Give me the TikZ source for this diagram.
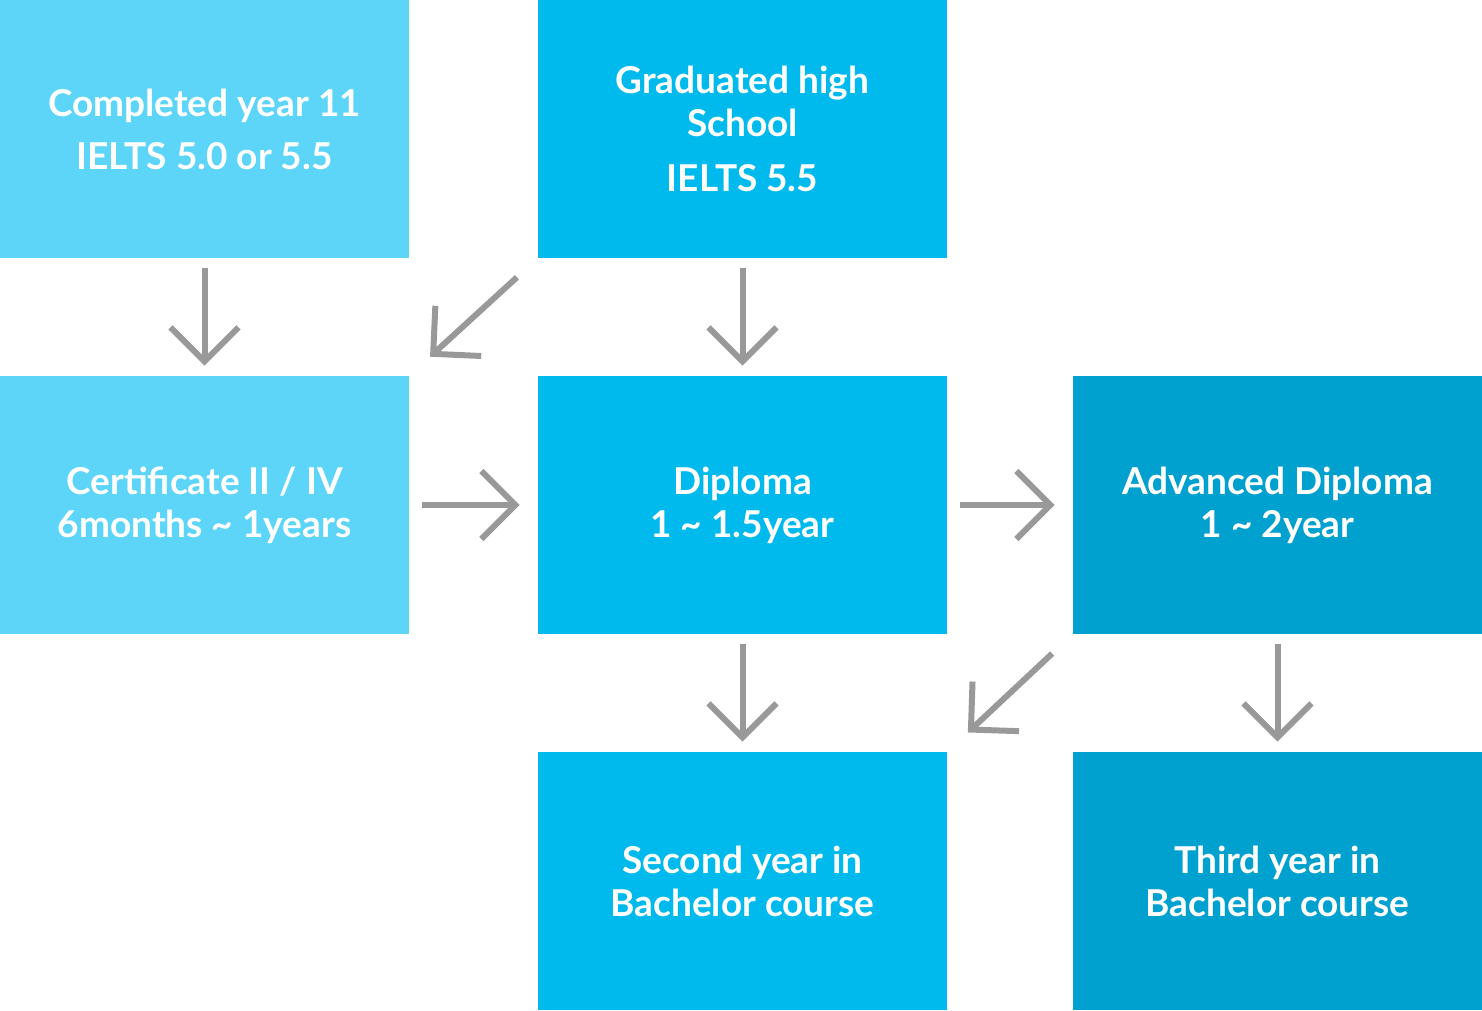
\documentclass[tikz,border=0pt]{standalone}
\usepackage{fontspec}
\setmainfont{Lato}[BoldFont={Lato Bold}]
\usetikzlibrary{arrows.meta}
\definecolor{boxlight}{HTML}{5DD5F9}
\definecolor{boxmid}{HTML}{00BAEE}
\definecolor{boxdark}{HTML}{00A0CF}
\definecolor{arrowgray}{HTML}{999999}
\begin{document}
\begin{tikzpicture}[x=0.5pt,y=-0.5pt]
\tikzstyle{block} = [rectangle, draw=none, text=white, font=\bfseries\fontsize{18.5}{21.5}\selectfont,
minimum width=204.5pt, minimum height=129pt, align=center, inner sep=0pt]
\tikzstyle{line} = [draw=arrowgray, line width=3pt, -{Straight Barb[length=17pt,width=34pt,line width=3pt]}]
\useasboundingbox (0,0) rectangle (1482,1011);
% row 1
\node [block, fill=boxlight] (year11) at (204.5,129) {Completed year 11\\[5pt]IELTS 5.0 or 5.5};
\node [block, fill=boxmid] (grad) at (742.5,129) {Graduated high\\School\\[6pt]IELTS 5.5};
% row 2
\node [block, fill=boxlight] (cert) at (204.5,505) {Certificate II / IV\\6months \textasciitilde{} 1years};
\node [block, fill=boxmid] (dip) at (742.5,505) {Diploma\\1 \textasciitilde{} 1.5year};
\node [block, fill=boxdark] (adv) at (1277.5,505) {Advanced Diploma\\1 \textasciitilde{} 2year};
% row 3
\node [block, fill=boxmid] (second) at (742.5,881) {Second year in\\Bachelor course};
\node [block, fill=boxdark] (third) at (1277.5,881) {Third year in\\Bachelor course};

\path [line, shorten <=5pt, shorten >=5pt] (year11) -- (cert);
\path [line, shorten <=5pt, shorten >=5pt] (grad) -- (dip);
\path [line, shorten <=14pt, shorten >=14pt] (grad.south west) -- (cert.north east);
\path [line, shorten <=6.5pt, shorten >=9pt] (cert) -- (dip);
\path [line, shorten <=6.5pt, shorten >=9pt] (dip) -- (adv);
\path [line, shorten <=5pt, shorten >=5pt] (dip) -- (second);
\path [line, shorten <=5pt, shorten >=5pt] (adv) -- (third);
\path [line, shorten <=14pt, shorten >=14pt] (adv.south west) -- (second.north east);
\end{tikzpicture}
\end{document}
